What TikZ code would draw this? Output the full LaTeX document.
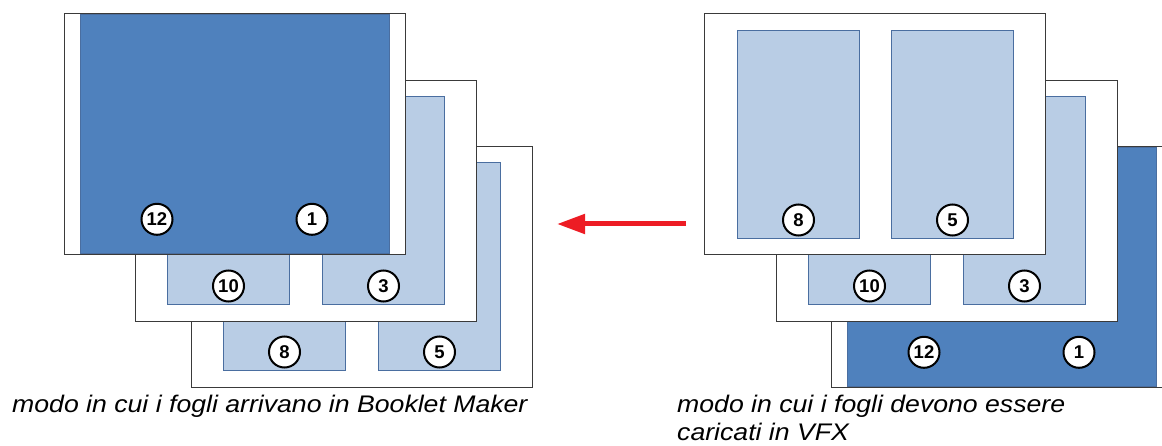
\documentclass[tikz,border=0pt]{standalone}
\usepackage{fontspec}
\setmainfont{Liberation Sans}
\newfontfamily\capfont[FakeStretch=1.11]{Liberation Sans}
\usetikzlibrary{positioning,calc,arrows.meta}
\definecolor{darkpage}{HTML}{4F81BD}
\definecolor{lightpage}{HTML}{B9CDE5}
\definecolor{pageline}{HTML}{4A6EA0}
\definecolor{sheetline}{HTML}{3A3A3A}
\definecolor{arrowred}{HTML}{ED1C24}

\begin{document}
\begin{tikzpicture}[x=1pt,y=1pt,
    sheet/.style={draw=sheetline,line width=1.3pt,fill=white,minimum width=341pt,minimum height=241pt,inner sep=0pt,anchor=north west},
    page/.style={draw=pageline,line width=1pt,fill=lightpage,minimum width=122pt,minimum height=208pt,inner sep=0pt},
    band/.style={draw=pageline,line width=.6pt,fill=darkpage,minimum width=309pt,minimum height=239.7pt,inner sep=0pt},
    num/.style={circle,draw=black,line width=2pt,fill=white,minimum size=31pt,inner sep=0pt,font=\fontsize{18.5}{18.5}\selectfont\bfseries},
    caption/.style={font=\fontsize{24}{28}\selectfont\capfont\itshape,align=left,inner sep=0pt,anchor=base west},
    arr/.style={-{Triangle[length=28pt,width=19pt]},line width=5pt,arrowred}]
    \useasboundingbox (0,0) rectangle (1162,445);

    % left stack: how the sheets arrive in Booklet Maker
    \node[sheet] (backL) at (191,299) {};
    \node[page,below right=16pt and 32pt of backL.north west] (backLa) {};
    \node[page,below right=16pt and 187pt of backL.north west] (backLb) {};
    \node[num] (n8L) at ($(backLa.south)+(0,19)$) {8};
    \node[num] (n5L) at ($(backLb.south)+(0,19)$) {5};

    \node[sheet] (midL) at (135,365) {};
    \node[page,below right=16pt and 32pt of midL.north west] (midLa) {};
    \node[page,below right=16pt and 187pt of midL.north west] (midLb) {};
    \node[num] (n10L) at ($(midLa.south)+(0,19)$) {10};
    \node[num] (n3L) at ($(midLb.south)+(0,19)$) {3};

    \node[sheet] (frontL) at (64,432) {};
    \node[band,below right=.65pt and 16pt of frontL.north west] (frontLband) {};
    \node[num] (n12L) at ($(frontL.south west)+(93,36)$) {12};
    \node[num] (n1L) at ($(frontL.south west)+(248,36)$) {1};

    % right stack: how the sheets must be loaded in VFX
    \node[sheet] (backR) at (831,299) {};
    \node[band,below right=.65pt and 16pt of backR.north west] (backRband) {};
    \node[num] (n12R) at ($(backR.south west)+(93,36)$) {12};
    \node[num] (n1R) at ($(backR.south west)+(248,36)$) {1};

    \node[sheet] (midR) at (776,365) {};
    \node[page,below right=16pt and 32pt of midR.north west] (midRa) {};
    \node[page,below right=16pt and 187pt of midR.north west] (midRb) {};
    \node[num] (n10R) at ($(midRa.south)+(0,19)$) {10};
    \node[num] (n3R) at ($(midRb.south)+(0,19)$) {3};

    \node[sheet] (frontR) at (704,432) {};
    \node[page,below right=17pt and 33pt of frontR.north west] (frontRa) {};
    \node[page,below right=17pt and 187pt of frontR.north west] (frontRb) {};
    \node[num] (n8R) at ($(frontRa.south)+(0,19)$) {8};
    \node[num] (n5R) at ($(frontRb.south)+(0,19)$) {5};

    % arrow between the stacks
    \coordinate (arrtail) at (686,221);
    \coordinate (arrhead) at (557,221);
    \draw[arr] (arrtail) -- (arrhead);

    \node[caption] (capL) at (12,33) {modo in cui i fogli arrivano in Booklet Maker};
    \node[caption] (capR) at (677,5) {modo in cui i fogli devono essere\\caricati in VFX};
\end{tikzpicture}
\end{document}
